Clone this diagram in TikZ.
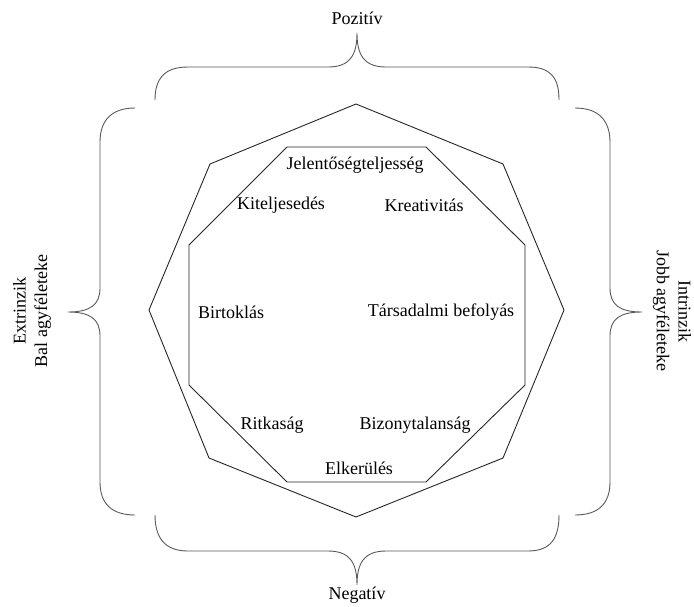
\documentclass[tikz,border=0pt]{standalone}
\usepackage{fontspec}
\setmainfont{Liberation Serif}
\begin{document}
\begin{tikzpicture}[x=1pt,y=-1pt,
  lbl/.style={font=\fontsize{18}{21.6}\selectfont, inner sep=1pt, align=center},
  poly/.style={draw=black!85, line width=0.9pt, line join=miter},
  brace/.style={draw=black!65, line width=0.9pt}]
\useasboundingbox (0,0) rectangle (694,606);
% outer octagon
\draw[poly] (356,104) -- (503,164) -- (564,310) -- (503,458) -- (356,517) -- (209,458) -- (149,310) -- (210,164) -- cycle;
% inner octagon
\draw[poly] (287,147) -- (426,147) -- (525,245) -- (525,385) -- (426,482) -- (287,482) -- (189,385) -- (189,245) -- cycle;
% braces
\draw[brace] (155,100) .. controls (155,78) and (165,67) .. (188,67) -- (328,67)
  .. controls (350,67) and (357,55) .. (357,33)
  .. controls (357,55) and (364,67) .. (386,67) -- (528,67)
  .. controls (551,67) and (559,78) .. (559,100);
\draw[brace] (155,515) .. controls (155,538) and (165,551) .. (188,551) -- (328,551)
  .. controls (350,551) and (357,563) .. (357,585)
  .. controls (357,563) and (364,551) .. (386,551) -- (528,551)
  .. controls (551,551) and (559,538) .. (559,515);
\draw[brace] (135,108) .. controls (112,108) and (100,120) .. (100,142) -- (100,288)
  .. controls (100,305) and (90,312) .. (68,312)
  .. controls (90,312) and (100,319) .. (100,336) -- (100,482)
  .. controls (100,504) and (112,515) .. (135,515);
\draw[brace] (575,108) .. controls (598,108) and (610,120) .. (610,142) -- (610,288)
  .. controls (610,305) and (620,312) .. (642,312)
  .. controls (620,312) and (610,319) .. (610,336) -- (610,482)
  .. controls (610,504) and (598,515) .. (575,515);
% labels
\node[lbl] (poz) at (357,18) {Pozitív};
\node[lbl] (neg) at (357,595) {Negatív};
\node[lbl, rotate=90] (ext) at (32,311) {Extrinzik\\Bal agyféleteke};
\node[lbl, rotate=-90] (intr) at (672,311) {Intrinzik\\Jobb agyféleteke};
\node[lbl] (jel) at (355,165) {Jelentőségteljesség};
\node[lbl] (kit) at (281,205) {Kiteljesedés};
\node[lbl] (kre) at (424,205) {Kreativitás};
\node[lbl] (bir) at (231,312) {Birtoklás};
\node[lbl] (tar) at (441,312) {Társadalmi befolyás};
\node[lbl] (rit) at (272,425) {Ritkaság};
\node[lbl] (biz) at (415,425) {Bizonytalanság};
\node[lbl] (elk) at (359,468) {Elkerülés};
\end{tikzpicture}
\end{document}
